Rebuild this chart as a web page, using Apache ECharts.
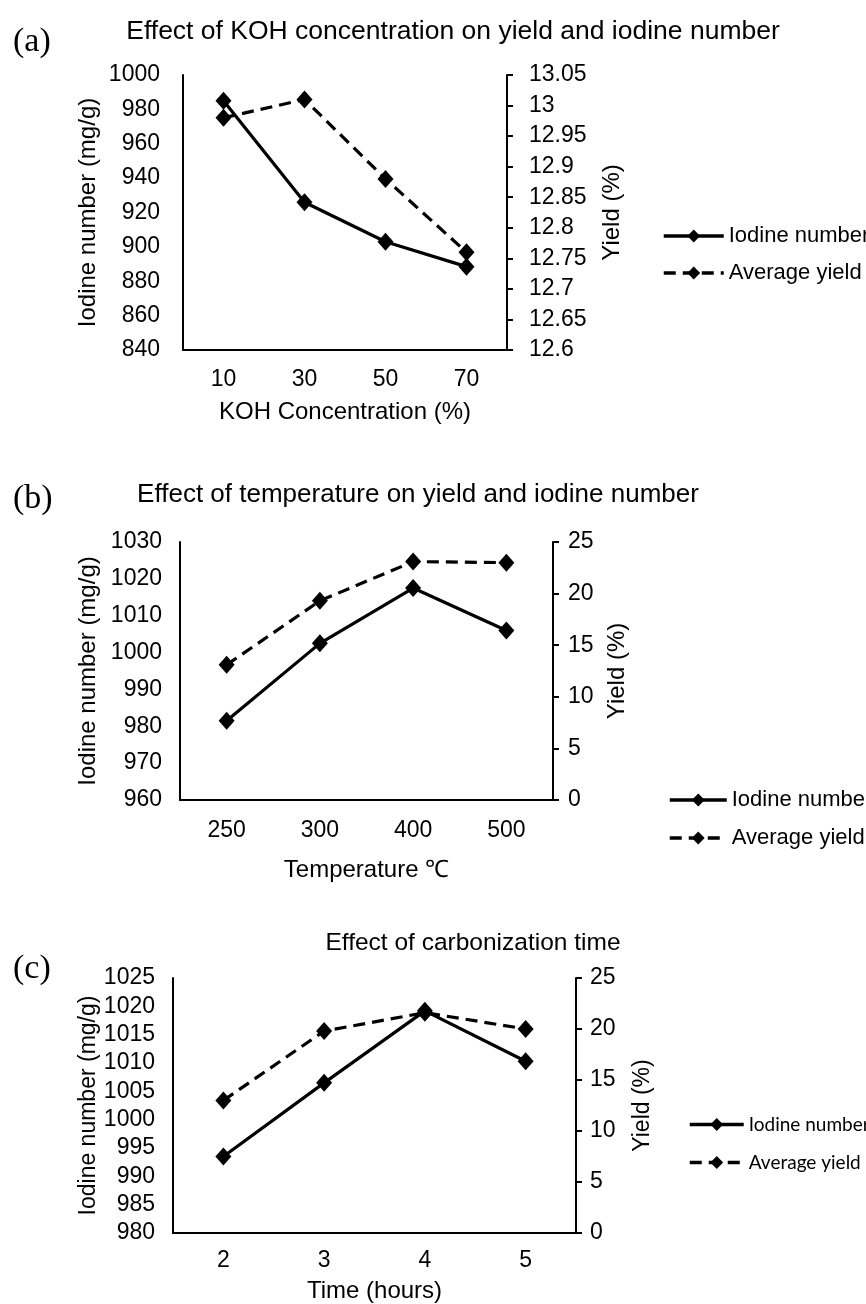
<!DOCTYPE html>
<html>
<head>
<meta charset="utf-8">
<script src="https://cdn.jsdelivr.net/npm/echarts@6/dist/echarts.min.js"></script>
<style>
html,body{margin:0;padding:0;background:#fff;}
#c{width:866px;height:1304px;}
</style>
</head>
<body>
<div id="c"></div>
<script>
// ---- data ----
var kohCats = ['10', '30', '50', '70'];
var kohIodine = [985, 926, 903, 888.5];
var kohYield = [12.98, 13.01, 12.88, 12.76];

var tempCats = ['250', '300', '400', '500'];
var tempIodine = [981.5, 1002.5, 1017.5, 1006];
var tempYield = [13.1, 19.3, 23.1, 23.0];

var timeCats = ['2', '3', '4', '5'];
var timeIodine = [993.5, 1006.5, 1019.2, 1010.3];
var timeYield = [13.0, 19.8, 21.6, 20.0];

var seriesNames = ['Iodine number', 'Average yield'];

// ---- styles ----
var SANS = '"Liberation Sans", Arial, sans-serif';
var SERIF = '"Liberation Serif", "Times New Roman", serif';
var axisLineStyle = { show: true, lineStyle: { color: '#000', width: 2 } };

function fmt(v) { return String(parseFloat(Number(v).toFixed(2))); }

function xAxis(grid, cats, name, labelMargin, nameGap, fs) {
  return {
    type: 'category', gridIndex: grid, data: cats,
    boundaryGap: true,
    axisLine: axisLineStyle, axisTick: { show: false },
    axisLabel: { color: '#000', fontFamily: SANS, fontSize: fs, margin: labelMargin },
    name: name, nameLocation: 'middle', nameGap: nameGap,
    nameTextStyle: { color: '#000', fontFamily: SANS, fontSize: fs + 1 }
  };
}
function yLeft(grid, min, max, interval, name, labelMargin, nameGap, fs, nfs) {
  return {
    type: 'value', gridIndex: grid, position: 'left', min: min, max: max, interval: interval,
    axisLine: axisLineStyle, axisTick: { show: false }, splitLine: { show: false },
    axisLabel: { color: '#000', fontFamily: SANS, fontSize: fs, margin: labelMargin, formatter: fmt },
    name: name, nameLocation: 'middle', nameGap: nameGap,
    nameTextStyle: { color: '#000', fontFamily: SANS, fontSize: nfs }
  };
}
function yRight(grid, min, max, interval, name, labelMargin, nameGap, fs, nfs) {
  return {
    type: 'value', gridIndex: grid, position: 'right', min: min, max: max, interval: interval,
    axisLine: axisLineStyle,
    axisTick: { show: true, inside: false, length: 6, lineStyle: { color: '#000', width: 2 } },
    splitLine: { show: false },
    axisLabel: { color: '#000', fontFamily: SANS, fontSize: fs, margin: labelMargin, formatter: fmt },
    name: name, nameLocation: 'middle', nameGap: nameGap,
    nameTextStyle: { color: '#000', fontFamily: SANS, fontSize: nfs }
  };
}
function lineSeries(name, xi, yi, data, dashed) {
  return {
    type: 'line', name: name, xAxisIndex: xi, yAxisIndex: yi, data: data,
    symbol: 'diamond', symbolSize: [16, 18], showSymbol: true,
    itemStyle: { color: '#000' },
    lineStyle: { color: '#000', width: 3.2, type: dashed ? [12, 7] : 'solid' },
    z: dashed ? 3 : 2
  };
}
function legend(left, top, itemWidth, gap, fam, fs) {
  return {
    data: seriesNames, orient: 'vertical', left: left, top: top,
    padding: 0,
    itemWidth: itemWidth, itemHeight: 16, itemGap: gap,
    lineStyle: { width: 3.5 },
    textStyle: { color: '#000', fontFamily: fam, fontSize: fs },
    selectedMode: false
  };
}

var option = {
  animation: false,
  backgroundColor: '#fff',
  title: [
    { text: '(a)', left: 8, top: 20, textStyle: { fontFamily: SERIF, fontSize: 34, fontWeight: 'normal', color: '#000' } },
    { text: 'Effect of KOH concentration on yield and iodine number', left: 448, textAlign: 'center', top: 13,
      textStyle: { fontFamily: SANS, fontSize: 26.5, fontWeight: 'normal', color: '#000' } },
    { text: '(b)', left: 8, top: 477, textStyle: { fontFamily: SERIF, fontSize: 34, fontWeight: 'normal', color: '#000' } },
    { text: 'Effect of temperature on yield and iodine number', left: 413, textAlign: 'center', top: 477,
      textStyle: { fontFamily: SANS, fontSize: 26, fontWeight: 'normal', color: '#000' } },
    { text: '(c)', left: 8, top: 947, textStyle: { fontFamily: SERIF, fontSize: 34, fontWeight: 'normal', color: '#000' } },
    { text: 'Effect of carbonization time', left: 468, textAlign: 'center', top: 926,
      textStyle: { fontFamily: SANS, fontSize: 24.5, fontWeight: 'normal', color: '#000' } }
  ],
  grid: [
    { left: 183, top: 75, width: 324, height: 275 },
    { left: 180, top: 542, width: 373, height: 258 },
    { left: 173, top: 978, width: 403, height: 257 }
  ],
  xAxis: [
    xAxis(0, kohCats, 'KOH Concentration (%)', 18, 50, 23),
    xAxis(1, tempCats, 'Temperature \u2103', 19, 58, 23),
    xAxis(2, timeCats, 'Time (hours)', 16, 46, 23)
  ],
  yAxis: [
    yLeft(0, 840, 1000, 20, 'Iodine number (mg/g)', 23, 83, 23, 24),
    yRight(0, 12.6, 13.05, 0.05, 'Yield (%)', 22, 93, 23, 24),
    yLeft(1, 960, 1030, 10, 'Iodine number (mg/g)', 18, 80, 23, 24),
    yRight(1, 0, 25, 5, 'Yield (%)', 15, 52, 23, 24),
    yLeft(2, 980, 1025, 5, 'Iodine number (mg/g)', 18, 73, 23, 23),
    yRight(2, 0, 25, 5, 'Yield (%)', 14, 55, 23, 23)
  ],
  legend: [
    legend(662, 225, 60, 15, SANS, 22),
    legend(668, 789, 57, 16, SANS, 22),
    legend(688, 1115, 54, 19, '"Lato", "Open Sans", sans-serif', 19)
  ],
  series: [
    lineSeries(seriesNames[0], 0, 0, kohIodine, false),
    lineSeries(seriesNames[1], 0, 1, kohYield, true),
    lineSeries(seriesNames[0], 1, 2, tempIodine, false),
    lineSeries(seriesNames[1], 1, 3, tempYield, true),
    lineSeries(seriesNames[0], 2, 4, timeIodine, false),
    lineSeries(seriesNames[1], 2, 5, timeYield, true)
  ]
};

var chart = echarts.init(document.getElementById('c'), null, { renderer: 'canvas' });
chart.setOption(option);
</script>
</body>
</html>
